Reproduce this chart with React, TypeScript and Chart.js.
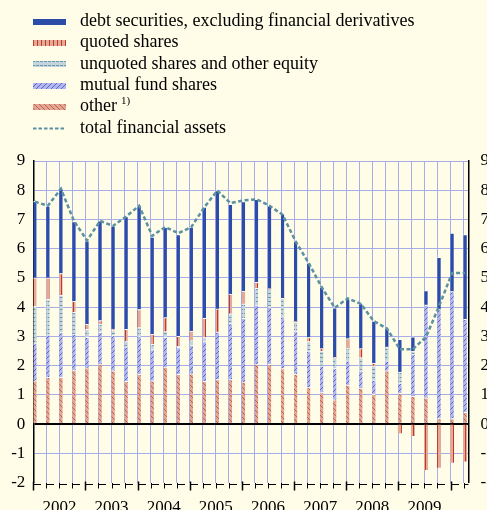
import React, { useEffect, useRef } from 'react';
import { Chart, registerables } from 'chart.js';

Chart.register(...registerables);

// ---------- data ----------
const quarters = [
  '2002Q1', '2002Q2', '2002Q3', '2002Q4',
  '2003Q1', '2003Q2', '2003Q3', '2003Q4',
  '2004Q1', '2004Q2', '2004Q3', '2004Q4',
  '2005Q1', '2005Q2', '2005Q3', '2005Q4',
  '2006Q1', '2006Q2', '2006Q3', '2006Q4',
  '2007Q1', '2007Q2', '2007Q3', '2007Q4',
  '2008Q1', '2008Q2', '2008Q3', '2008Q4',
  '2009Q1', '2009Q2', '2009Q3', '2009Q4',
  '2010Q1', '2010Q2',
];
const yearLabels = ['2002', '2003', '2004', '2005', '2006', '2007', '2008', '2009'];

const other = [
  1.48, 1.6, 1.6, 1.85, 1.92, 2.05, 1.82, 1.46,
  1.7, 1.48, 1.95, 1.7, 1.72, 1.46, 1.52, 1.52,
  1.44, 2.05, 2.04, 1.9, 1.7, 1.25, 1.08, 0.83,
  1.33, 1.23, 1.02, 1.82, 1.05, 0.95, 0.9, 0.19,
  0.19, 0.4,
];
const mutualFund = [
  1.27, 1.45, 1.53, 1.23, 1.05, 1.09, 1.21, 1.18,
  1.31, 1.07, 1.02, 0.92, 0.98, 1.36, 1.63, 1.92,
  2.18, 2.02, 1.97, 1.77, 1.48, 1.25, 0.91, 1.07,
  0.83, 0.59, 0.48, 0.34, 0.35, 1.44, 3.17, 3.73,
  4.34, 3.18,
];
const unquoted = [
  1.28, 1.22, 1.27, 0.74, 0.27, 0.28, 0.17, 0.2,
  0.29, 0.18, 0.19, 0.04, 0.15, 0.14, 0.0, 0.33,
  0.49, 0.57, 0.62, 0.63, 0.32, 0.32, 0.51, 0.37,
  0.42, 0.45, 0.49, 0.47, 0.38, 0.11, 0.0, 0.0,
  0.0, 0.0,
];
const quoted = [
  0.97, 0.73, 0.75, 0.38, 0.17, 0.12, 0.05, 0.4,
  0.62, 0.34, 0.48, 0.34, 0.33, 0.66, 0.79, 0.68,
  0.44, 0.21, 0.0, 0.0, 0.0, 0.14, 0.08, 0.0,
  0.34, 0.31, 0.09, 0.0, -0.3, -0.4, -1.56, -1.48,
  -1.31, -1.27,
];
const debt = [
  2.62, 2.45, 2.9, 2.73, 2.86, 3.41, 3.52, 3.86,
  3.55, 3.33, 3.09, 3.48, 3.55, 3.8, 4.05, 3.07,
  3.06, 2.84, 2.84, 2.88, 2.75, 2.55, 2.1, 1.71,
  1.36, 1.54, 1.44, 0.64, 1.12, 0.48, 0.5, 1.78,
  2.0, 2.9,
];
const totalAssets = [
  7.61, 7.47, 8.05, 6.95, 6.28, 6.95, 6.78, 7.1,
  7.47, 6.44, 6.74, 6.53, 6.74, 7.42, 7.99, 7.56,
  7.65, 7.69, 7.47, 7.16, 6.25, 5.51, 4.68, 3.98,
  4.3, 4.11, 3.52, 3.27, 2.56, 2.56, 2.98, 4.03,
  5.17, 5.17,
];

const legendLabels = [
  'debt securities, excluding financial derivatives',
  'quoted shares',
  'unquoted shares and other equity',
  'mutual fund shares',
  'other',
  'total financial assets',
];
const otherFootnote = '1)';

// ---------- styles ----------
const BG = '#fffde8';
const GRID = '#a7ade8';
const SERIF = "'Liberation Serif', 'Times New Roman', serif";
const LINE_COLOR = '#5b91a0';

type Fill = string | CanvasPattern;

function makePattern(kind: string): Fill {
  const c = document.createElement('canvas');
  const g = c.getContext('2d');
  if (!g) return '#888';
  if (kind === 'quoted') {
    c.width = 4; c.height = 4;
    g.fillStyle = '#e4aa98'; g.fillRect(0, 0, 4, 4);
    g.fillStyle = '#c0392b'; g.fillRect(1, 0, 1, 4);
  } else if (kind === 'unquoted') {
    c.width = 4; c.height = 4;
    g.fillStyle = '#c4d4dd'; g.fillRect(0, 0, 4, 4);
    g.fillStyle = '#6b9baa'; g.fillRect(0, 1, 3, 1);
  } else if (kind === 'mutual') {
    c.width = 5; c.height = 5;
    g.fillStyle = '#b2b6ec'; g.fillRect(0, 0, 5, 5);
    g.fillStyle = '#5a68cc';
    for (let i = 0; i < 5; i++) g.fillRect(i, 4 - i, 1, 1);
  } else if (kind === 'other') {
    c.width = 5; c.height = 5;
    g.fillStyle = '#e2a694'; g.fillRect(0, 0, 5, 5);
    g.fillStyle = '#c4604e';
    for (let i = 0; i < 5; i++) g.fillRect(i, i, 1, 1);
  } else {
    return '#2c4caa';
  }
  return g.createPattern(c, 'repeat') || '#888';
}

export default function App() {
  const ref = useRef<HTMLCanvasElement | null>(null);

  useEffect(() => {
    const canvas = ref.current;
    if (!canvas) return;

    const fills: Record<string, Fill> = {
      debt: '#2c4caa',
      quoted: makePattern('quoted'),
      unquoted: makePattern('unquoted'),
      mutual: makePattern('mutual'),
      other: makePattern('other'),
    };

    const shift = 0.12;
    const pts = (arr: number[]) => arr.map((v, i) => ({ x: i + shift, y: v }));

    const barCommon = {
      type: 'bar' as const,
      grouped: false,
      barThickness: 3.3,
      borderColor: '#ffffff',
      borderWidth: { top: 1, bottom: 0, left: 0, right: 0 },
      order: 1,
    };

    const chromePlugin = {
      id: 'chrome',
      beforeDraw(chart: any) {
        const { ctx, width, height } = chart;
        ctx.save();
        ctx.fillStyle = BG;
        ctx.fillRect(0, 0, width, height);
        ctx.restore();
      },
      afterDraw(chart: any) {
        const { ctx } = chart;
        const xs = chart.scales.x;
        const area = chart.chartArea;
        ctx.save();
        // bracket ticks below the plot
        ctx.strokeStyle = '#000';
        for (let k = 0; k < quarters.length; k++) {
          const x = Math.round(xs.getPixelForValue(k));
          const yearStart = k % 4 === 0;
          ctx.lineWidth = yearStart ? 1.5 : 1;
          ctx.beginPath();
          ctx.moveTo(x + 0.5, yearStart ? area.bottom - 1 : area.bottom + 0.5);
          ctx.lineTo(x + 0.5, yearStart ? area.bottom + 8 : area.bottom + 6);
          ctx.stroke();
          ctx.lineWidth = 1;
          ctx.beginPath();
          ctx.moveTo(x, Math.round(area.bottom) + 1.5);
          ctx.lineTo(Math.min(x + 8, area.right), Math.round(area.bottom) + 1.5);
          ctx.stroke();
        }

        // legend
        const keys = ['debt', 'quoted', 'unquoted', 'mutual', 'other'];
        const mx = 33;
        const mw = 33;
        const tx = 80;
        ctx.font = `18px ${SERIF}`;
        ctx.textBaseline = 'alphabetic';
        ctx.textAlign = 'left';
        for (let i = 0; i < legendLabels.length; i++) {
          const base = 26 + i * 21.35;
          const cy = base - 4.5;
          if (i < 5) {
            ctx.fillStyle = fills[keys[i]];
            ctx.fillRect(mx, Math.round(cy - 3), mw, 6);
          } else {
            ctx.strokeStyle = LINE_COLOR;
            ctx.lineWidth = 2;
            ctx.setLineDash([3.5, 2]);
            ctx.beginPath();
            ctx.moveTo(mx, Math.round(cy) + 0.5);
            ctx.lineTo(mx + mw, Math.round(cy) + 0.5);
            ctx.stroke();
            ctx.setLineDash([]);
          }
          ctx.fillStyle = '#000';
          ctx.font = `18px ${SERIF}`;
          ctx.fillText(legendLabels[i], tx, base);
          if (i === 4) {
            const w = ctx.measureText(legendLabels[i]).width;
            ctx.font = `11px ${SERIF}`;
            ctx.fillText(otherFootnote, tx + w + 4, base - 7);
          }
        }
        ctx.restore();
      },
    };

    const chart = new Chart(canvas, {
      type: 'bar',
      data: {
        datasets: [
          {
            type: 'line',
            label: legendLabels[5],
            data: pts(totalAssets),
            borderColor: LINE_COLOR,
            borderWidth: 2.5,
            borderDash: [4, 2.5],
            pointRadius: 0,
            fill: false,
            tension: 0,
            stack: 'total',
            order: 0,
          } as any,
          { ...barCommon, label: legendLabels[4], data: pts(other), backgroundColor: fills.other } as any,
          { ...barCommon, label: legendLabels[3], data: pts(mutualFund), backgroundColor: fills.mutual } as any,
          { ...barCommon, label: legendLabels[2], data: pts(unquoted), backgroundColor: fills.unquoted } as any,
          { ...barCommon, label: legendLabels[1], data: pts(quoted), backgroundColor: fills.quoted } as any,
          { ...barCommon, label: legendLabels[0], data: pts(debt), backgroundColor: fills.debt } as any,
        ],
      },
      options: {
        animation: false,
        responsive: false,
        devicePixelRatio: 1,
        layout: { padding: { top: 161, left: 0, right: 0, bottom: 0 } },
        plugins: {
          legend: { display: false },
          tooltip: { enabled: false },
        },
        scales: {
          x: {
            type: 'linear',
            min: 0,
            max: 33.38,
            offset: false,
            grid: {
              offset: false,
              drawTicks: false,
              lineWidth: 1,
              color: (c: any) => (c.tick && c.tick.value === 0 ? 'rgba(0,0,0,0)' : GRID),
            },
            border: { display: false },
            ticks: {
              stepSize: 1,
              maxTicksLimit: 100,
              autoSkip: false,
              maxRotation: 0,
              minRotation: 0,
              includeBounds: false,
              padding: 15,
              color: '#000',
              font: { family: SERIF, size: 17 },
              callback: (v: any) => {
                const n = Math.round(Number(v));
                if (n % 4 === 2) {
                  const idx = (n - 2) / 4;
                  return yearLabels[idx] ?? '';
                }
                return '';
              },
            },
            afterFit: (s: any) => { s.height = 27.5; },
          },
          y: {
            type: 'linear',
            position: 'left',
            min: -2,
            max: 9,
            stacked: true,
            grid: {
              drawTicks: false,
              color: (c: any) => {
                const v = c.tick ? c.tick.value : null;
                if (v === 0) return '#000';
                if (v === -2) return 'rgba(0,0,0,0)';
                return GRID;
              },
              lineWidth: (c: any) => (c.tick && c.tick.value === 0 ? 2 : 1),
            },
            border: { display: true, color: '#000', width: 1.5 },
            ticks: {
              stepSize: 1,
              padding: 8,
              color: '#000',
              font: { family: SERIF, size: 17 },
            },
            afterFit: (s: any) => { s.width = 33.3; },
          },
          y2: {
            type: 'linear',
            position: 'right',
            display: true,
            min: -2,
            max: 9,
            grid: { display: false, drawTicks: false },
            border: { display: true, color: '#000', width: 1.5 },
            ticks: {
              stepSize: 1,
              padding: 12,
              color: '#000',
              font: { family: SERIF, size: 17 },
            },
            afterFit: (s: any) => { s.width = 18.5; },
          },
        },
      } as any,
      plugins: [chromePlugin],
    });

    return () => chart.destroy();
  }, []);

  return (
    <div style={{ position: 'fixed', left: 0, top: 0, width: 487, height: 510, background: BG }}>
      <canvas ref={ref} width={487} height={510} style={{ width: 487, height: 510, display: 'block' }} />
    </div>
  );
}
